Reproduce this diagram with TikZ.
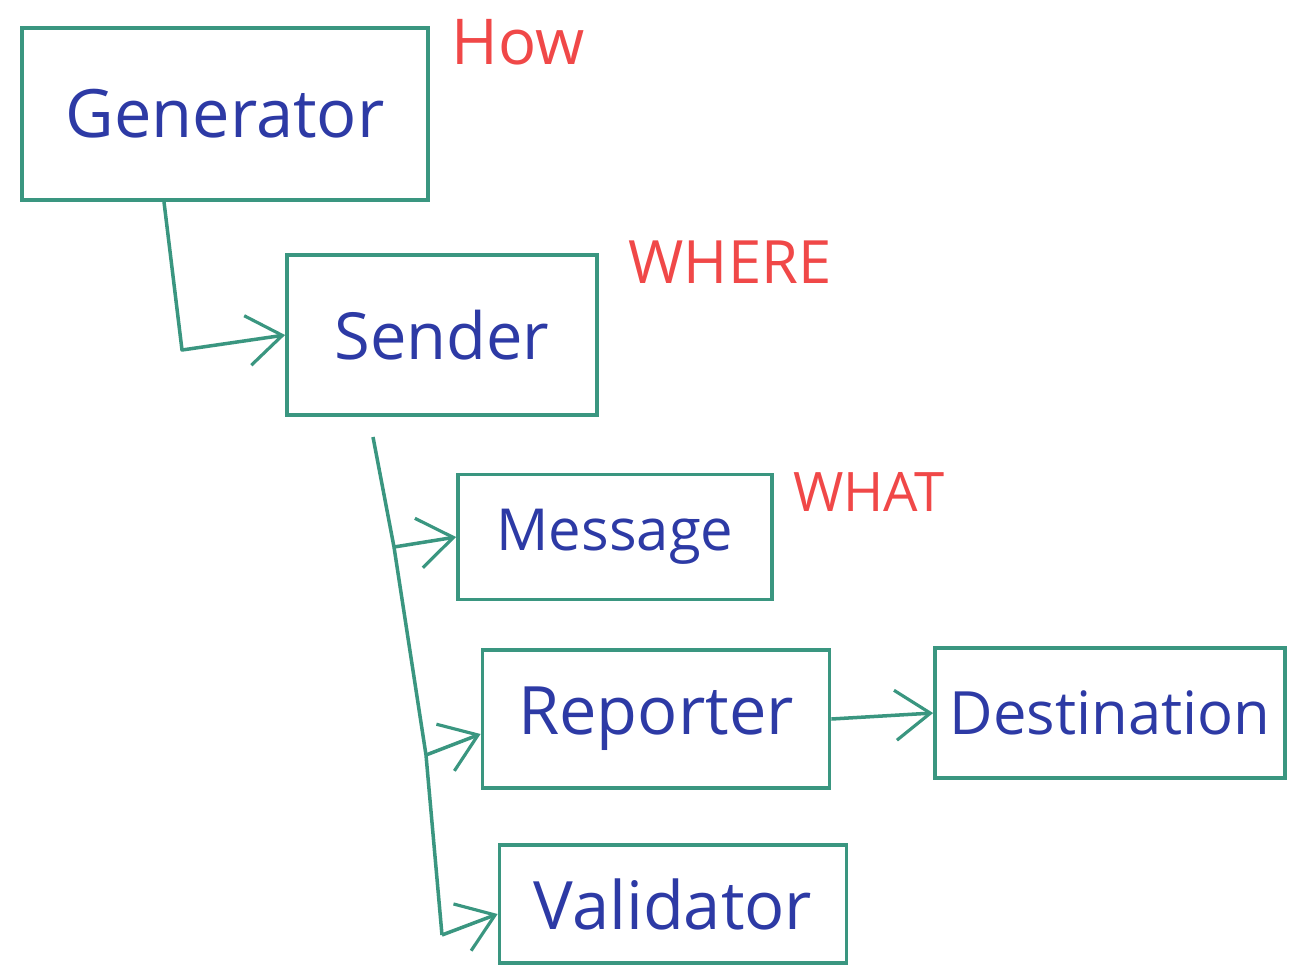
\documentclass[tikz,border=0pt]{standalone}
\usepackage{fontspec}
\setmainfont{Open Sans}
\usetikzlibrary{arrows.meta}
\definecolor{pen}{RGB}{58,150,128}
\definecolor{ink}{RGB}{45,58,165}
\definecolor{redink}{RGB}{240,72,72}
\tikzset{
  x=0.02cm, y=-0.02cm,
  box/.style={draw=pen, line width=2.2pt, text=ink, inner sep=0pt},
  fs/.style={font=\fontsize{#1}{#1}\selectfont},
  tag/.style={text=redink, inner sep=0pt},
  conn/.style={draw=pen, line width=2pt, line join=round,
    -{Straight Barb[length=7mm 0 0, width=10mm 0 0, line width=1.8pt]}},
}
\begin{document}
\begin{tikzpicture}
\useasboundingbox (0,0) rectangle (1289,968);
\node[box, fs=38, minimum width=8.12cm, minimum height=3.44cm] (gen) at (225,114) {Generator};
\node[box, fs=37, minimum width=6.2cm, minimum height=3.2cm] (snd) at (442,335) {Sender};
\node[box, fs=33, minimum width=6.28cm, minimum height=2.5cm] (msg) at (615,537) {Message};
\node[box, fs=38, minimum width=6.94cm, minimum height=2.76cm] (rep) at (656,719) {Reporter};
\node[box, fs=34, minimum width=7.0cm, minimum height=2.6cm] (dst) at (1110,713) {Destination};
\node[box, fs=38, minimum width=6.94cm, minimum height=2.36cm] (val) at (673,904) {Validator};
\node[tag, fs=36] (how) at (518,42) {How};
\node[tag, fs=34] (where) at (730,262) {WHERE};
\node[tag, fs=31] (what) at (869,492) {WHAT};
% Generator -> Sender
\coordinate (g1) at (gen.south -| 164,0);
\coordinate (g2) at (182,350);
\draw[conn] (g1) -- (g2) -- (snd.west);
% Sender -> children
\coordinate (s0) at (373,437);
\coordinate (s1) at (394,547);
\coordinate (s2) at (426,755);
\coordinate (s3) at (442,935);
\draw[pen, line width=2pt, line join=round] (s0) -- (s1) -- (s2) -- (s3);
\draw[conn] (s1) -- (msg.west);
\draw[conn] (s2) -- ([yshift=-0.3cm]rep.west);
\draw[conn] (s3) -- ([yshift=-0.2cm]val.west);
% Reporter -> Destination
\draw[conn] (rep.east) -- (dst.west);
\end{tikzpicture}
\end{document}
